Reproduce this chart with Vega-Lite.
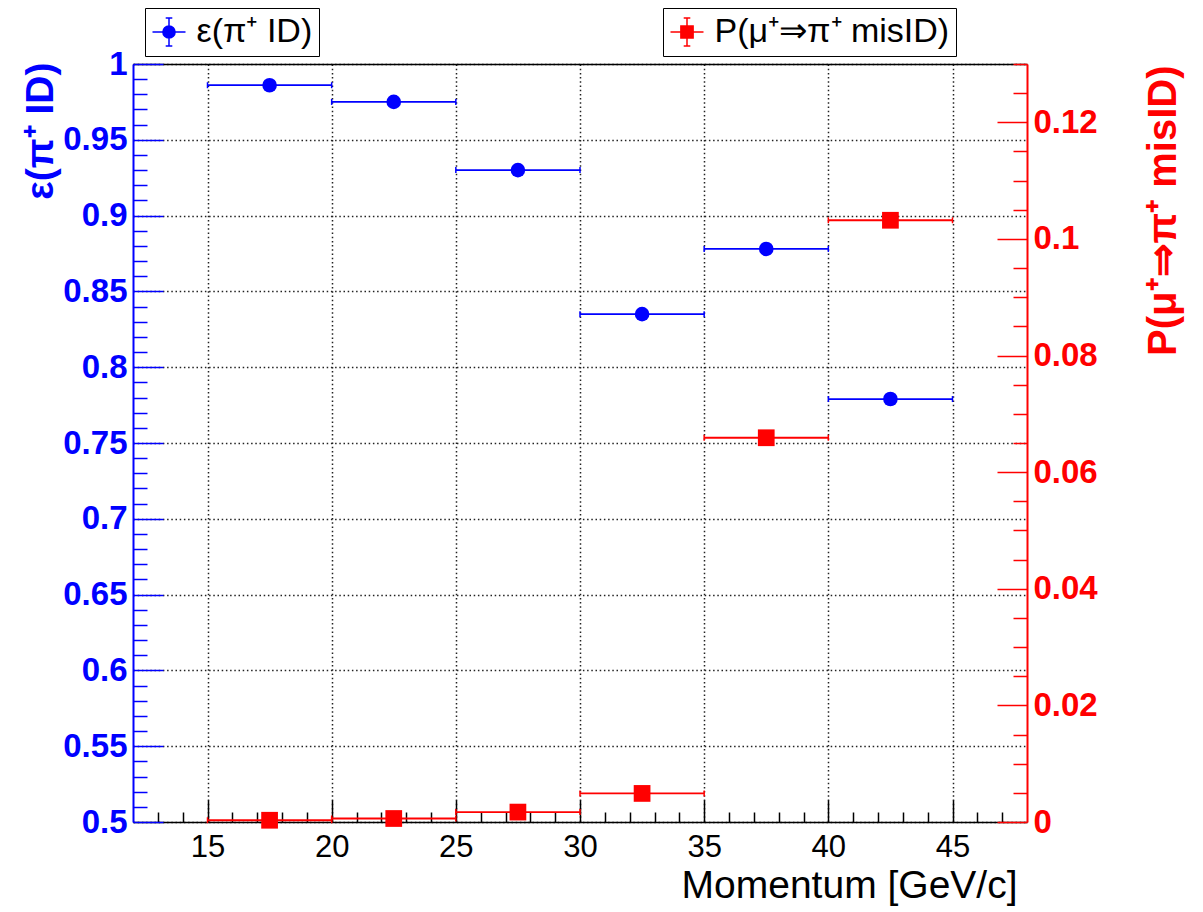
{
  "$schema": "https://vega.github.io/schema/vega-lite/v6.json",
  "width": 894,
  "height": 758,
  "autosize": {"type": "none"},
  "padding": {"left": 133, "top": 64, "right": 176, "bottom": 90},
  "background": "white",
  "config": {
    "view": {"stroke": null},
    "font": "Liberation Sans",
    "axis": {"labelFont": "Liberation Sans", "titleFont": "Liberation Sans"}
  },
  "data": {
    "values": [
      {"p": 17.5, "lo": 15, "hi": 20, "eff": 0.986, "mis": 0.0003},
      {"p": 22.5, "lo": 20, "hi": 25, "eff": 0.975, "mis": 0.0006},
      {"p": 27.5, "lo": 25, "hi": 30, "eff": 0.930, "mis": 0.0017},
      {"p": 32.5, "lo": 30, "hi": 35, "eff": 0.835, "mis": 0.0049},
      {"p": 37.5, "lo": 35, "hi": 40, "eff": 0.878, "mis": 0.0659},
      {"p": 42.5, "lo": 40, "hi": 45, "eff": 0.779, "mis": 0.1032}
    ]
  },
  "resolve": {
    "scale": {"x": "independent", "y": "independent", "color": "independent"},
    "axis": {"x": "independent", "y": "independent"},
    "legend": {"color": "independent"}
  },
  "layer": [
    {
      "mark": {"type": "rule", "color": "#0000ff", "strokeWidth": 1.8},
      "encoding": {
        "x": {"field": "lo", "type": "quantitative",
          "scale": {"domain": [12, 48], "nice": false, "zero": false},
          "axis": {"orient": "bottom", "values": [15, 20, 25, 30, 35, 40, 45], "format": "~g",
            "grid": true, "gridColor": "#222222", "gridDash": [1.5, 2.7], "gridWidth": 1.5,
            "domainColor": "black", "domainWidth": 1.5, "tickColor": "black", "tickWidth": 1.5, "tickSize": -22,
            "labelPadding": 32, "labelFontSize": 31, "labelColor": "black", "labelBaseline": "top",
            "title": "Momentum [GeV/c]", "titleFontSize": 39, "titleFontWeight": "normal", "titleColor": "black",
            "titleAlign": "right", "titleBaseline": "alphabetic", "titleAnchor": "end", "titleX": 884, "titleY": 75, "titleAngle": 0}},
        "x2": {"field": "hi"},
        "y": {"field": "eff", "type": "quantitative",
          "scale": {"domain": [0.5, 1], "nice": false, "zero": false},
          "axis": {"orient": "left", "values": [0.5, 0.55, 0.6, 0.65, 0.7, 0.75, 0.8, 0.85, 0.9, 0.95, 1], "format": "~g",
            "grid": true, "gridColor": "#222222", "gridDash": [1.5, 2.7], "gridWidth": 1.5,
            "domainColor": "#0000ff", "domainWidth": 2, "tickColor": "#0000ff", "tickWidth": 1.5, "tickSize": -30,
            "labelPadding": 36, "labelFontSize": 33, "labelFontWeight": "bold", "labelColor": "#0000ff",
            "labelAlign": "right", "labelBaseline": "middle",
            "title": "ε(π⁺ ID)", "titleFontSize": 39, "titleFontWeight": "bold", "titleColor": "#0000ff",
            "titleAngle": -90, "titleAlign": "right", "titleBaseline": "middle", "titleX": -93, "titleY": -2}}
      }
    },
    {
      "transform": [{"fold": ["lo", "hi"], "as": ["end", "xe"]}],
      "mark": {"type": "point", "shape": "M0,-1L0,1", "size": 36, "filled": false, "color": "#0000ff", "strokeWidth": 1.5, "opacity": 1},
      "encoding": {
        "x": {"field": "xe", "type": "quantitative",
          "scale": {"domain": [12, 48], "nice": false, "zero": false},
          "axis": {"orient": "bottom", "values": [13, 14, 16, 17, 18, 19, 21, 22, 23, 24, 26, 27, 28, 29, 31, 32, 33, 34, 36, 37, 38, 39, 41, 42, 43, 44, 46, 47],
            "labels": false, "domain": false, "grid": false, "tickColor": "black", "tickWidth": 1.5, "tickSize": -10, "title": null}},
        "y": {"field": "eff", "type": "quantitative",
          "scale": {"domain": [0.5, 1], "nice": false, "zero": false},
          "axis": {"orient": "left", "values": [0.51, 0.52, 0.53, 0.54, 0.56, 0.57, 0.58, 0.59, 0.61, 0.62, 0.63, 0.64, 0.66, 0.67, 0.68, 0.69, 0.71, 0.72, 0.73, 0.74, 0.76, 0.77, 0.78, 0.79, 0.81, 0.82, 0.83, 0.84, 0.86, 0.87, 0.88, 0.89, 0.91, 0.92, 0.93, 0.94, 0.96, 0.97, 0.98, 0.99],
            "labels": false, "domain": false, "grid": false, "tickColor": "#0000ff", "tickWidth": 1.5, "tickSize": -14, "title": null}}
      }
    },
    {
      "mark": {"type": "point", "shape": "circle", "filled": true, "size": 214, "opacity": 1},
      "encoding": {
        "x": {"field": "p", "type": "quantitative",
          "scale": {"domain": [12, 48], "nice": false, "zero": false},
          "axis": {"orient": "top", "labels": false, "ticks": false, "grid": false, "domainColor": "black", "domainWidth": 1.5, "title": null}},
        "y": {"field": "eff", "type": "quantitative",
          "scale": {"domain": [0.5, 1], "nice": false, "zero": false}, "axis": null},
        "color": {"datum": "ε(π⁺ ID)", "type": "nominal",
          "scale": {"domain": ["ε(π⁺ ID)"], "range": ["#0000ff"]},
          "legend": {"orient": "none", "legendX": 12, "legendY": -56, "title": null,
            "strokeColor": "black", "fillColor": "white", "padding": 6.5,
            "symbolType": "M-1,0L1,0M0,-0.85L0,0.85M-0.2,-0.85L0.2,-0.85M-0.2,0.85L0.2,0.85M0.37,0A0.37,0.37,0,1,1,-0.37,0A0.37,0.37,0,1,1,0.37,0Z",
            "symbolSize": 1089, "symbolStrokeColor": "#0000ff", "symbolFillColor": "#0000ff", "symbolStrokeWidth": 1.5, "symbolOpacity": 1,
            "labelFont": "Liberation Sans", "labelFontSize": 34, "labelColor": "black", "labelOffset": 10, "labelLimit": 400}}
      }
    },
    {
      "mark": {"type": "rule", "color": "#ff0000", "strokeWidth": 1.8},
      "encoding": {
        "x": {"field": "lo", "type": "quantitative",
          "scale": {"domain": [12, 48], "nice": false, "zero": false}, "axis": null},
        "x2": {"field": "hi"},
        "y": {"field": "mis", "type": "quantitative",
          "scale": {"domain": [0, 0.13], "nice": false, "zero": false},
          "axis": {"orient": "right", "values": [0, 0.02, 0.04, 0.06, 0.08, 0.1, 0.12], "format": "~g",
            "grid": false, "domainColor": "#ff0000", "domainWidth": 2, "tickColor": "#ff0000", "tickWidth": 1.5, "tickSize": -30,
            "labelPadding": 36, "labelFontSize": 33, "labelFontWeight": "bold", "labelColor": "#ff0000",
            "labelAlign": "left", "labelBaseline": "middle",
            "title": "P(μ⁺⇒π⁺ misID)", "titleFontSize": 40, "titleFontWeight": "bold", "titleColor": "#ff0000",
            "titleAngle": -90, "titleAlign": "right", "titleBaseline": "middle", "titleX": 136, "titleY": 1}}
      }
    },
    {
      "transform": [{"fold": ["lo", "hi"], "as": ["end", "xe"]}],
      "mark": {"type": "point", "shape": "M0,-1L0,1", "size": 36, "filled": false, "color": "#ff0000", "strokeWidth": 1.5, "opacity": 1},
      "encoding": {
        "x": {"field": "xe", "type": "quantitative",
          "scale": {"domain": [12, 48], "nice": false, "zero": false}, "axis": null},
        "y": {"field": "mis", "type": "quantitative",
          "scale": {"domain": [0, 0.13], "nice": false, "zero": false},
          "axis": {"orient": "right", "values": [0.005, 0.01, 0.015, 0.025, 0.03, 0.035, 0.045, 0.05, 0.055, 0.065, 0.07, 0.075, 0.085, 0.09, 0.095, 0.105, 0.11, 0.115, 0.125, 0.13],
            "labels": false, "domain": false, "grid": false, "tickColor": "#ff0000", "tickWidth": 1.5, "tickSize": -14, "title": null}}
      }
    },
    {
      "mark": {"type": "point", "shape": "square", "filled": true, "size": 280, "opacity": 1},
      "encoding": {
        "x": {"field": "p", "type": "quantitative",
          "scale": {"domain": [12, 48], "nice": false, "zero": false}, "axis": null},
        "y": {"field": "mis", "type": "quantitative",
          "scale": {"domain": [0, 0.13], "nice": false, "zero": false}, "axis": null},
        "color": {"datum": "P(μ⁺⇒π⁺ misID)", "type": "nominal",
          "scale": {"domain": ["P(μ⁺⇒π⁺ misID)"], "range": ["#ff0000"]},
          "legend": {"orient": "none", "legendX": 530, "legendY": -56, "title": null,
            "strokeColor": "black", "fillColor": "white", "padding": 6.5,
            "symbolType": "M-1,0L1,0M0,-0.85L0,0.85M-0.2,-0.85L0.2,-0.85M-0.2,0.85L0.2,0.85M-0.37,-0.37L0.37,-0.37L0.37,0.37L-0.37,0.37Z",
            "symbolSize": 1089, "symbolStrokeColor": "#ff0000", "symbolFillColor": "#ff0000", "symbolStrokeWidth": 1.5, "symbolOpacity": 1,
            "labelFont": "Liberation Sans", "labelFontSize": 34, "labelColor": "black", "labelOffset": 10, "labelLimit": 500}}
      }
    }
  ]
}
